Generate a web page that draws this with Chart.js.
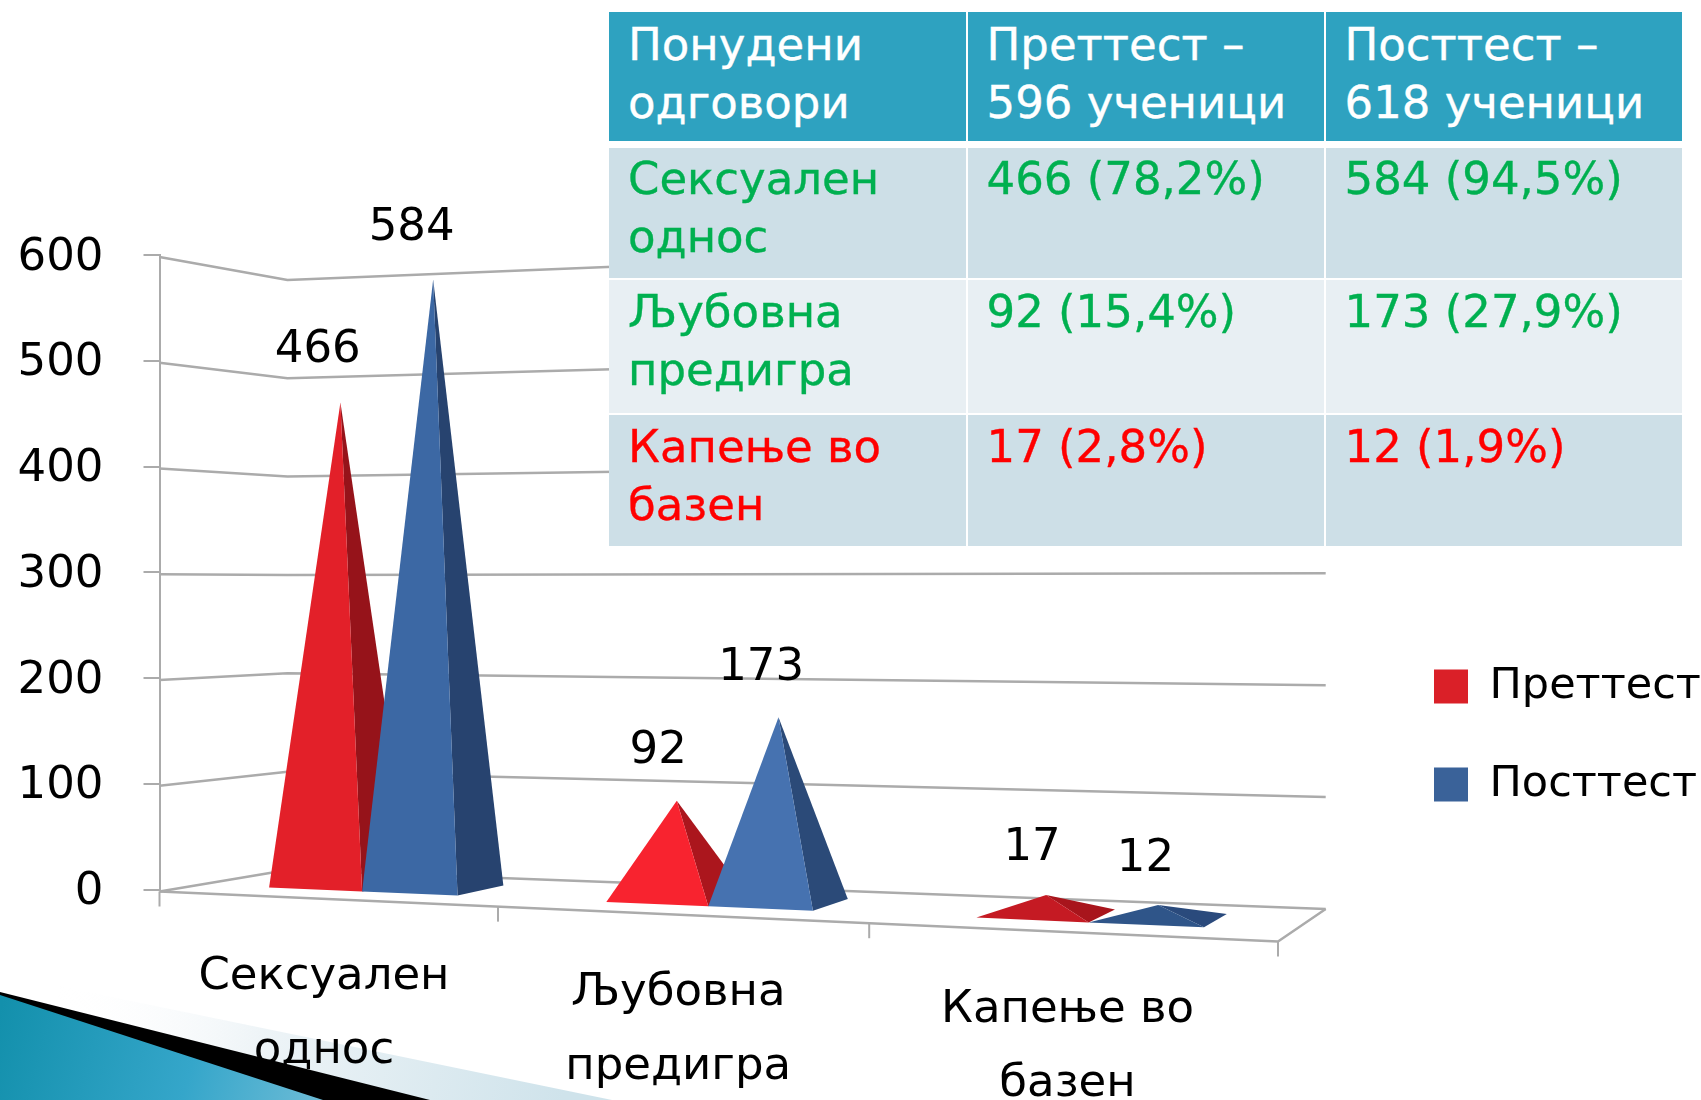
<!DOCTYPE html>
<html><head><meta charset="utf-8">
<style>
html,body{margin:0;padding:0;background:#fff;width:1701px;height:1100px;overflow:hidden}
#c{position:absolute;left:0;top:0}
table{position:absolute;left:609px;top:12px;width:1073px;border-collapse:separate;border-spacing:0;table-layout:fixed;font:45px/58px "DejaVu Sans",sans-serif;-webkit-text-stroke:.35px currentColor}
td{vertical-align:top;padding:4px 0 0 19px;box-sizing:border-box;border-left:2px solid #fff;overflow:hidden}
td:first-child{border-left:none}
tr.h td{background:#2EA2C0;color:#fff;height:129px;border-bottom:7px solid #fff}
tr.h{height:136px}
</style>
<script src="https://cdn.jsdelivr.net/npm/chart.js@4"></script>
</head><body>
<canvas id="c" width="1701" height="1100"></canvas>
<table id="t"></table>
<script>
const categories=[['Сексуален','однос'],['Љубовна','предигра'],['Капење во','базен']];
const seriesNames=['Преттест','Посттест'];
const pretest=[466,92,17];
const posttest=[584,173,12];
const yTicksMax=600, yTicksStep=100;
const tableHead=[['Понудени','одговори'],['Преттест –','596 ученици'],['Посттест –','618 ученици']];
const tableRows=[
 [['Сексуален','однос'],['466 (78,2%)'],['584 (94,5%)']],
 [['Љубовна','предигра'],['92 (15,4%)'],['173 (27,9%)']],
 [['Капење во','базен'],['17 (2,8%)'],['12 (1,9%)']]];
const rowStyle=[{c:'#00B050',b:'#CDDFE7',h:130,pt:2},{c:'#00B050',b:'#E8EFF3',h:135,pt:3},{c:'#FF0000',b:'#CDDFE7',h:133,pt:3}];

// table
const t=document.getElementById('t');
const cg=document.createElement('colgroup');
[356.5,358,358.5].forEach(w=>{const c=document.createElement('col');c.style.width=w+'px';cg.appendChild(c)});
t.appendChild(cg);
const hr=t.insertRow();hr.className='h';
tableHead.forEach(l=>{const d=hr.insertCell();d.innerHTML=l.join('<br>')});
tableRows.forEach((r,i)=>{const tr=t.insertRow();tr.style.height=rowStyle[i].h+'px';
 r.forEach(l=>{const d=tr.insertCell();d.innerHTML=l.join('<br>');d.style.background=rowStyle[i].b;d.style.color=rowStyle[i].c;d.style.height=rowStyle[i].h+'px';
  d.style.borderTop=i?'2px solid #fff':'none';d.style.paddingTop=rowStyle[i].pt+'px'})});

// perspective frame of the 3D box (floor corners)
const FL={x:159.5,y:891.5},FR={x:1278,y:941.5},BR={x:1325.7,y:909},BL={x:287.5,y:870};
const hFL=1,hFR=1.04,hBR=1.058,hBL=0.93,pyramidLift=1.007;
const warp=u=>0.868*u/(1-0.132*u);
const lerp=(a,b,t)=>a+(b-a)*t;
function frac(chart,px){const a=chart.chartArea;return warp((px-a.left)/(a.right-a.left))}
function project(chart,px,py,w,lift=1){
 const a=chart.chartArea,U=frac(chart,px);
 const x=lerp(lerp(FL.x,FR.x,U),lerp(BL.x,BR.x,U),w);
 const y=lerp(lerp(FL.y,FR.y,U),lerp(BL.y,BR.y,U),w);
 const f=lerp(lerp(hFL,hFR,U),lerp(hBL,hBR,U),w);
 return {x,y:y-(a.bottom-py)*f*lift};
}
const frontFaces=[['#E32029','#F8232F','#C51A23'],['#3C68A4','#4672B0','#2F5589']];
const sideFaces=[['#96131A','#AB161D','#A8151C'],['#27436F','#2B4A78','#2A4A7C']];
const gridColor='#ABABAB';
const depthFront=0.32, depthBack=0.74;

function line(ctx,pts,color,w){ctx.save();ctx.strokeStyle=color;ctx.lineWidth=w;ctx.lineJoin='round';ctx.beginPath();
 pts.forEach((p,i)=>i?ctx.lineTo(p.x,p.y):ctx.moveTo(p.x,p.y));ctx.stroke();ctx.restore()}
function tri(ctx,a,b,c,col){ctx.fillStyle=col;ctx.beginPath();ctx.moveTo(a.x,a.y);ctx.lineTo(b.x,b.y);ctx.lineTo(c.x,c.y);ctx.closePath();ctx.fill()}

const pyramid3d={id:'pyramid3d',
 afterUpdate(chart){const l=chart.legend;const W=l.width,H=l.height;l.left=1379;l.right=1379+W;l.top=610;l.bottom=610+H},
 beforeDraw(chart){
  const ctx=chart.ctx;ctx.save();
  let g=ctx.createLinearGradient(60,985,560,1110);
  g.addColorStop(0,'rgba(255,255,255,0)');g.addColorStop(.4,'#EEF4F7');g.addColorStop(1,'#CFE3EB');
  ctx.fillStyle=g;ctx.beginPath();ctx.moveTo(0,974);ctx.lineTo(612,1100);ctx.lineTo(0,1100);ctx.fill();
  ctx.fillStyle='#000';ctx.beginPath();ctx.moveTo(0,992);ctx.lineTo(430,1100);ctx.lineTo(0,1100);ctx.fill();
  g=ctx.createLinearGradient(0,1010,320,1100);
  g.addColorStop(0,'#1390AC');g.addColorStop(.6,'#35A6CA');g.addColorStop(1,'#6CBBD6');
  ctx.fillStyle=g;ctx.beginPath();ctx.moveTo(0,995);ctx.lineTo(323,1100);ctx.lineTo(0,1100);ctx.fill();
  ctx.restore();
 },
 beforeDatasetsDraw(chart){
  const ctx=chart.ctx,x=chart.scales.x,y=chart.scales.y;
  const L=x.left,R=x.right;
  y.ticks.forEach(tk=>{const py=y.getPixelForValue(tk.value);
   line(ctx,[project(chart,L,py,0),project(chart,L,py,1),project(chart,R,py,1)],gridColor,2.5)});
  const z=y.getPixelForValue(0);
  line(ctx,[project(chart,L,z,0),project(chart,R,z,0),project(chart,R,z,1)],gridColor,2.5);
  for(let i=0;i<=categories.length;i++){const p=project(chart,x.getPixelForValue(i-.5),z,0);
   line(ctx,[p,{x:p.x,y:p.y+15}],gridColor,2)}
 },
 beforeDatasetDraw(){return false},
 afterDatasetsDraw(chart){
  const ctx=chart.ctx,y=chart.scales.y,z=y.getPixelForValue(0),x=chart.scales.x;
  const labels=[];
  categories.forEach((c,i)=>{
   [0,1].forEach(ds=>{
    const b=chart.getDatasetMeta(ds).data[i];
    const p=b.getProps(['x','y','width'],true);
    const l=p.x-p.width/2,r=p.x+p.width/2;
    const a=project(chart,l,z,depthFront),d=project(chart,r,z,depthFront),e=project(chart,r,z,depthBack);
    const apex=project(chart,p.x,p.y,(depthFront+depthBack)/2,pyramidLift);
    tri(ctx,d,e,apex,sideFaces[ds][i]);
    tri(ctx,a,d,apex,frontFaces[ds][i]);
    const U=frac(chart,p.x);
    labels.push({t:String(chart.data.datasets[ds].data[i]),x:apex.x-24+13*U,y:apex.y-53+8*U});
   });
  });
  ctx.save();ctx.fillStyle='#000';ctx.font='45px "DejaVu Sans"';ctx.textAlign='center';ctx.textBaseline='middle';
  labels.forEach(l=>ctx.fillText(l.t,l.x,l.y));
  categories.forEach((c,i)=>{const q=project(chart,x.getPixelForValue(i),z,0);
   c.forEach((s,k)=>ctx.fillText(s,q.x-1,q.y+78.5+k*74));});
  ctx.restore();
 }
};
new Chart(document.getElementById('c'),{type:'bar',
 data:{labels:categories,datasets:[
  {label:seriesNames[0],data:pretest,backgroundColor:'#DA2028',categoryPercentage:.57,barPercentage:1},
  {label:seriesNames[1],data:posttest,backgroundColor:'#3A6299',categoryPercentage:.57,barPercentage:1}]},
 plugins:[pyramid3d],
 options:{responsive:false,animation:false,
  layout:{padding:{left:17.5,top:255,bottom:210.5,right:0}},
  plugins:{tooltip:{enabled:false},title:{display:false},
   legend:{position:'right',align:'start',labels:{boxWidth:34,boxHeight:34,padding:55,color:'#000',font:{family:'"DejaVu Sans"',size:43}}}},
  scales:{
   x:{display:false,grid:{display:false}},
   y:{min:0,max:yTicksMax,afterFit(s){s.width=142},
      ticks:{stepSize:yTicksStep,color:'#000',padding:40,labelOffset:3,font:{family:'"DejaVu Sans"',size:45}},
      grid:{drawOnChartArea:false,drawTicks:true,tickLength:16,color:gridColor,lineWidth:2},
      border:{color:gridColor,width:2}}
  }}});
</script>
</body></html>
